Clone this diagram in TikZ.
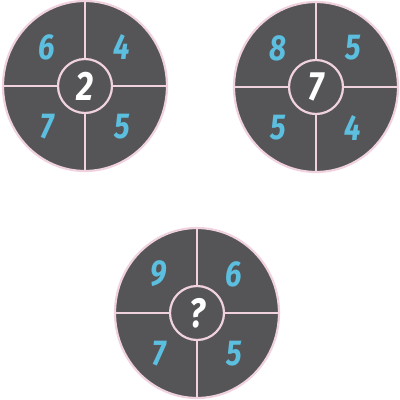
\documentclass[tikz,border=0pt]{standalone}
\usepackage{fontspec}
\newfontfamily\digitfont[FakeStretch=0.82]{Fira Sans}
\definecolor{disc}{HTML}{555558}
\definecolor{rim}{HTML}{F0D2DE}
\definecolor{digit}{HTML}{5CBFE0}
\tikzset{
  rimline/.style={draw=rim, line width=2.2pt},
  wheel/.style={rimline, fill=disc},
  hub/.style={circle, wheel, minimum size=54pt, inner sep=0pt, text=white,
    font=\digitfont\bfseries\itshape\fontsize{41}{41}\selectfont},
  num/.style={text=digit, inner sep=0pt,
    font=\digitfont\bfseries\itshape\fontsize{36}{36}\selectfont}
}
\begin{document}
\begin{tikzpicture}[x=1pt,y=-1pt]
\useasboundingbox (0,0) rectangle (400,400);
\foreach \cx/\cy/\c/\a/\b/\d/\e/\n in {85/86/2/6/4/7/5/one,316/87/7/8/5/5/4/two,197/313/?/9/6/7/5/three}{
  \begin{scope}[shift={(\cx,\cy)}]
  \draw[wheel] (0,0) ellipse [x radius=82, y radius=85];
  \coordinate (\n-l) at (-82,0);
  \coordinate (\n-r) at (82,0);
  \coordinate (\n-t) at (0,-85);
  \coordinate (\n-b) at (0,85);
  \draw[rimline] (\n-l) -- (\n-r);
  \draw[rimline] (\n-t) -- (\n-b);
  \node[hub] (\n-hub) at (0,0) {\c};
  \node[num] (\n-tl) at (-38,-39) {\a};
  \node[num] (\n-tr) at (37,-39) {\b};
  \node[num] (\n-bl) at (-38,41) {\d};
  \node[num] (\n-br) at (37,41) {\e};
  \end{scope}
}
\end{tikzpicture}
\end{document}
